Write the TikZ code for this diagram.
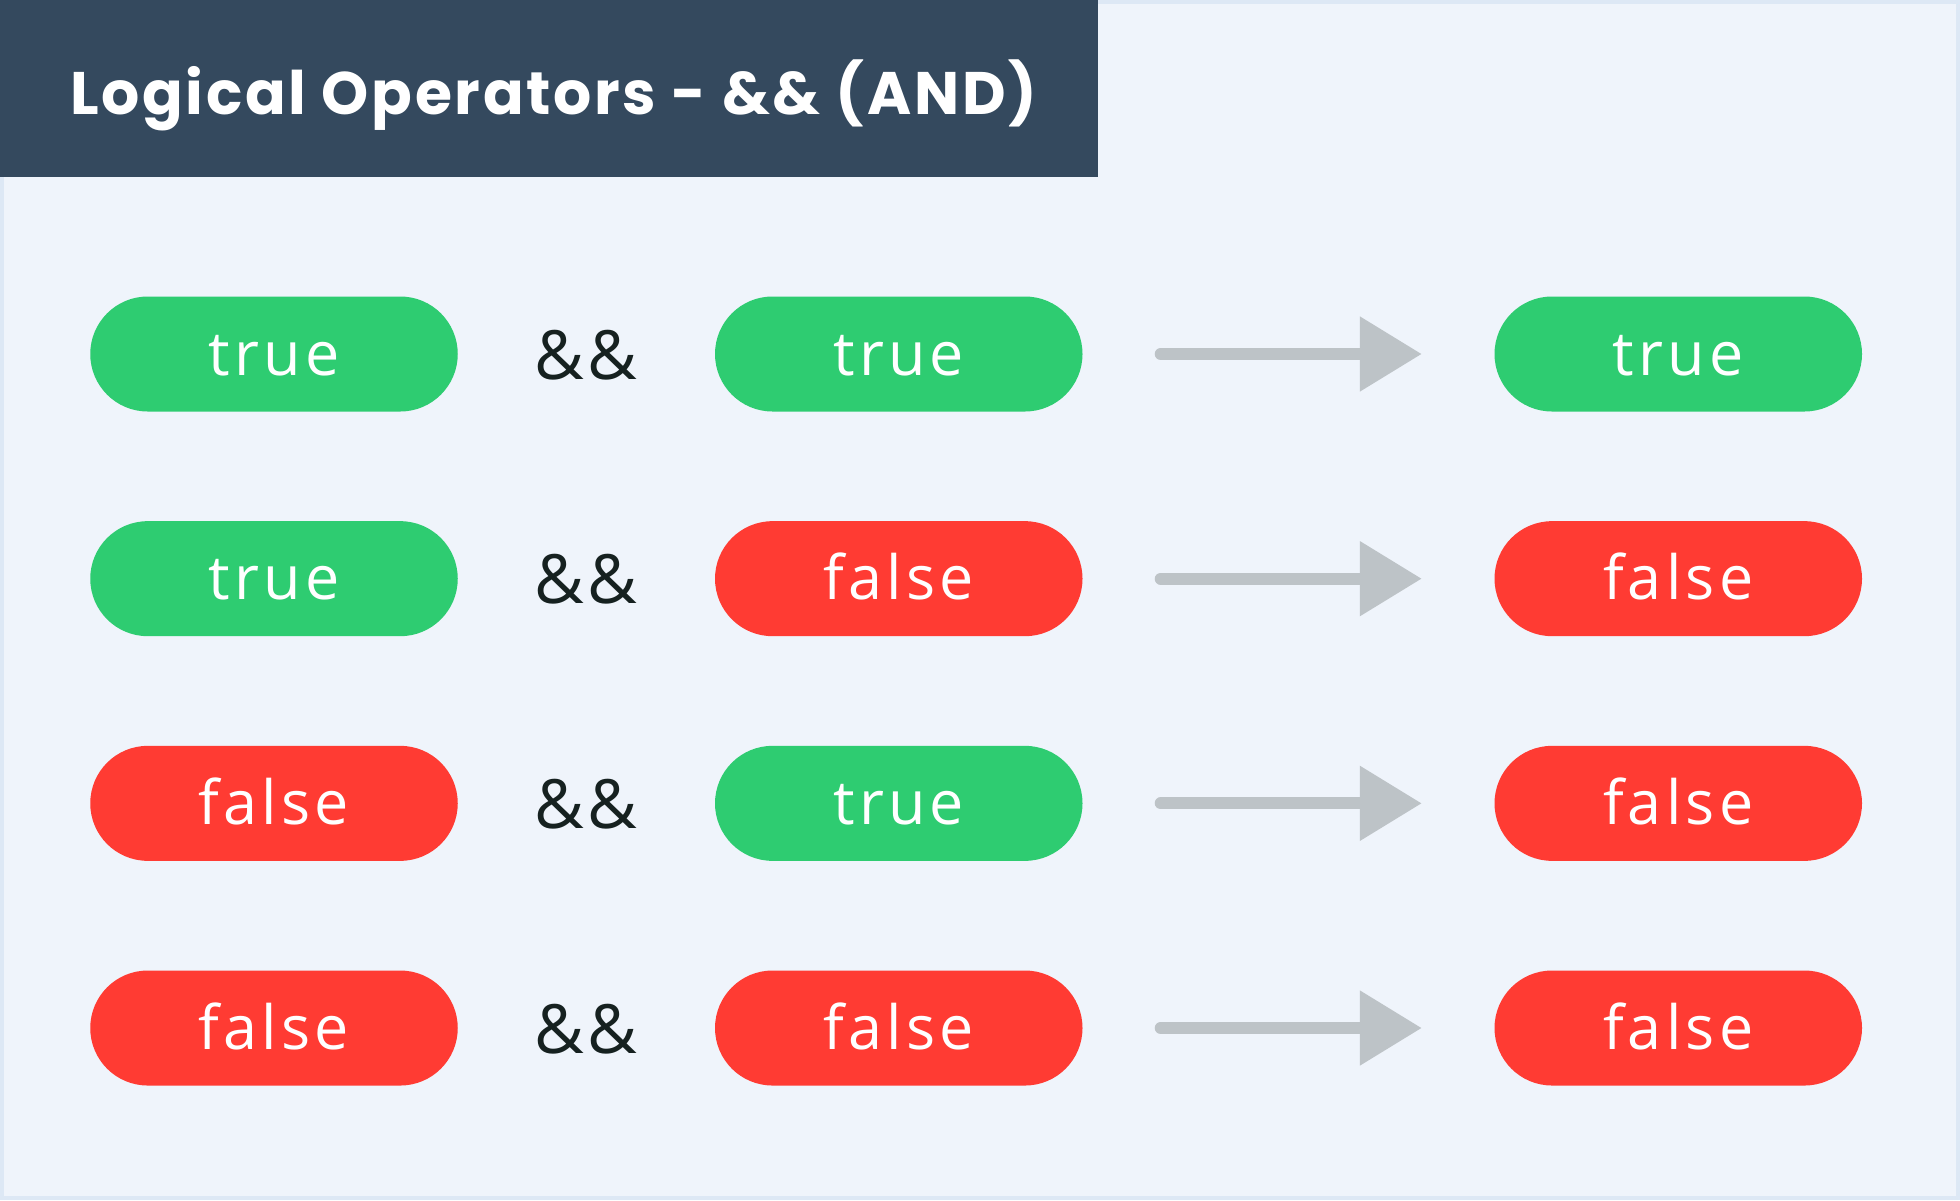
\documentclass[tikz,border=0pt]{standalone}
\usepackage{fontspec}
\setmainfont{Open Sans}
\newfontfamily\titlefont{Poppins}[LetterSpace=4.5]
\newfontfamily\pillfont{Open Sans}[LetterSpace=7]
\newfontfamily\ampfont{Open Sans}[LetterSpace=6]
\usetikzlibrary{arrows.meta,positioning}
\definecolor{framecol}{HTML}{DDE8F5}
\definecolor{pagecol}{HTML}{EFF4FB}
\definecolor{headcol}{HTML}{34495E}
\definecolor{valtrue}{HTML}{2ECC71}
\definecolor{valfalse}{HTML}{FF3B33}
\definecolor{arrowcol}{HTML}{BDC3C7}
\definecolor{ampcol}{HTML}{162120}

\begin{document}
\begin{tikzpicture}[x=1pt,y=-1pt,
    pill/.style={rounded corners=57.5pt, minimum width=367.5pt, minimum height=115pt,
      inner sep=0pt, text=white, font=\pillfont\fontsize{61}{61}\selectfont,
      text height=42pt, text depth=0pt},
    amp/.style={inner sep=0pt, text=ampcol, font=\ampfont\fontsize{68}{68}\selectfont,
      text height=50pt, text depth=0pt},
    titletext/.style={inner sep=0pt, text=white, font=\titlefont\bfseries\fontsize{60}{60}\selectfont},
    result/.style={draw=arrowcol, line width=12pt, line cap=round,
      -{Triangle[length=62pt,width=72pt]}}]
  \useasboundingbox (0,0) rectangle (1960,1200);
  % page and header
  \fill[framecol] (0,0) rectangle (1960,1200);
  \fill[pagecol] (4,4) rectangle (1956,1196);
  \fill[headcol] (0,0) rectangle (1098,177);
  \node[titletext, anchor=base west] (title) at (70,114) {Logical Operators - \&\& (AND)};
  % truth table rows
  \foreach \a/\b/\c [count=\i] in {true/true/true, true/false/false,
                                   false/true/false, false/false/false}{
    \pgfmathsetmacro{\y}{354+(\i-1)*224.67}
    \node[pill, fill=val\a] (a\i) at (274,\y) {\a};
    \node[amp] (op\i) at (586,\y) {\&\&};
    \node[pill, fill=val\b] (b\i) at (898.75,\y) {\b};
    \node[pill, fill=val\c] (r\i) at (1678.25,\y) {\c};
    \draw[result] ([xshift=78pt]b\i.east) -- ([xshift=-72.5pt]r\i.west);
  }
\end{tikzpicture}
\end{document}
